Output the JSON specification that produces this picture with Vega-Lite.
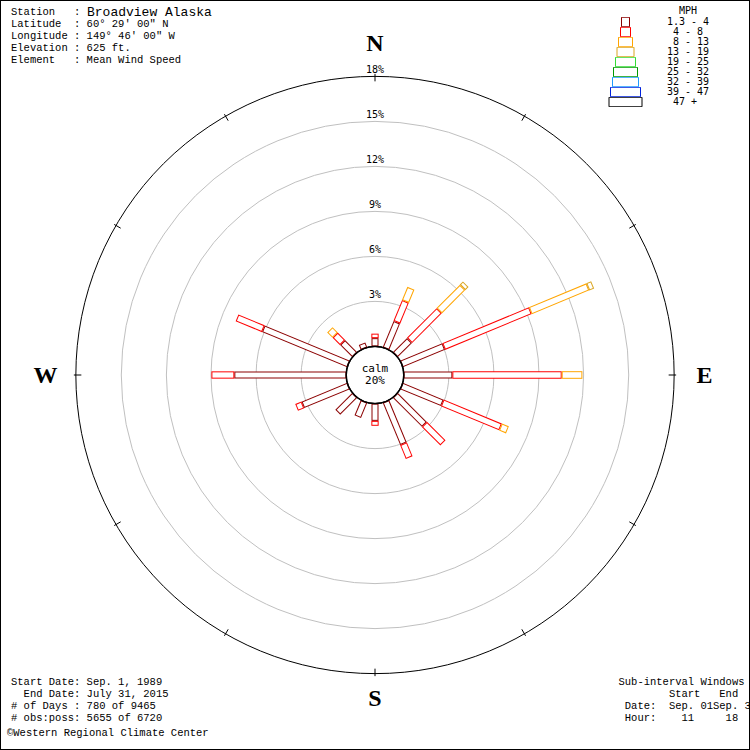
{
  "$schema": "https://vega.github.io/schema/vega-lite/v6.json",
  "width": 750,
  "height": 750,
  "autosize": {"type": "fit", "contains": "padding"},
  "padding": 0,
  "background": "white",
  "config": {"view": {"stroke": "black", "strokeWidth": 2}},
  "datasets": {
    "rose": [
      {"dir": 0, "speed": "1.3 - 4", "pct": 0.55},
      {"dir": 0, "speed": "4 - 8", "pct": 0.3},
      {"dir": 22.5, "speed": "1.3 - 4", "pct": 1.9},
      {"dir": 22.5, "speed": "4 - 8", "pct": 1.5},
      {"dir": 22.5, "speed": "8 - 13", "pct": 0.95},
      {"dir": 45, "speed": "1.3 - 4", "pct": 1.35},
      {"dir": 45, "speed": "4 - 8", "pct": 2.8},
      {"dir": 45, "speed": "8 - 13", "pct": 2.2},
      {"dir": 45, "speed": "13 - 19", "pct": 0.3},
      {"dir": 67.5, "speed": "1.3 - 4", "pct": 3.05},
      {"dir": 67.5, "speed": "4 - 8", "pct": 6.25},
      {"dir": 67.5, "speed": "8 - 13", "pct": 4.15},
      {"dir": 67.5, "speed": "13 - 19", "pct": 0.35},
      {"dir": 90, "speed": "1.3 - 4", "pct": 3.25},
      {"dir": 90, "speed": "4 - 8", "pct": 7.29},
      {"dir": 90, "speed": "8 - 13", "pct": 1.38},
      {"dir": 112.5, "speed": "1.3 - 4", "pct": 2.95},
      {"dir": 112.5, "speed": "4 - 8", "pct": 4.2},
      {"dir": 112.5, "speed": "8 - 13", "pct": 0.5},
      {"dir": 135, "speed": "1.3 - 4", "pct": 2.75},
      {"dir": 135, "speed": "4 - 8", "pct": 1.75},
      {"dir": 157.5, "speed": "1.3 - 4", "pct": 3.05},
      {"dir": 157.5, "speed": "4 - 8", "pct": 1.0},
      {"dir": 180, "speed": "1.3 - 4", "pct": 1.15},
      {"dir": 180, "speed": "4 - 8", "pct": 0.33},
      {"dir": 202.5, "speed": "1.3 - 4", "pct": 1.1},
      {"dir": 225, "speed": "1.3 - 4", "pct": 1.6},
      {"dir": 247.5, "speed": "1.3 - 4", "pct": 3.3},
      {"dir": 247.5, "speed": "4 - 8", "pct": 0.45},
      {"dir": 270, "speed": "1.3 - 4", "pct": 7.47},
      {"dir": 270, "speed": "4 - 8", "pct": 1.53},
      {"dir": 292.5, "speed": "1.3 - 4", "pct": 6.15},
      {"dir": 292.5, "speed": "4 - 8", "pct": 1.9},
      {"dir": 315, "speed": "1.3 - 4", "pct": 1.15},
      {"dir": 315, "speed": "4 - 8", "pct": 0.7},
      {"dir": 315, "speed": "8 - 13", "pct": 0.5},
      {"dir": 337.5, "speed": "1.3 - 4", "pct": 0.35}
    ],
    "speeds": [
      {"speed": "1.3 - 4"}, {"speed": "4 - 8"}, {"speed": "8 - 13"},
      {"speed": "13 - 19"}, {"speed": "19 - 25"}, {"speed": "25 - 32"},
      {"speed": "32 - 39"}, {"speed": "39 - 47"}, {"speed": "47 +"}
    ],
    "rings": [{"ring": 3}, {"ring": 6}, {"ring": 9}, {"ring": 12}, {"ring": 15}, {"ring": 18}],
    "ticks": [{"ang": 0}, {"ang": 30}, {"ang": 60}, {"ang": 90}, {"ang": 120}, {"ang": 150},
              {"ang": 180}, {"ang": 210}, {"ang": 240}, {"ang": 270}, {"ang": 300}, {"ang": 330}],
    "compass": [{"ang": 0, "lab": "N"}, {"ang": 90, "lab": "E"}, {"ang": 180, "lab": "S"}, {"ang": 270, "lab": "W"}]
  },
  "layer": [
    {
      "data": {"name": "rings"},
      "transform": [{"filter": "datum.ring < 18"}],
      "mark": {"type": "arc", "filled": false, "stroke": "#c0c0c0", "strokeWidth": 1, "theta": 0, "theta2": 6.2832},
      "encoding": {
        "radius": {"field": "ring", "type": "quantitative", "stack": null, "scale": {"type": "linear", "domain": [-1.9067, 23.0933], "range": [0, 375], "zero": false}}
      }
    },
    {
      "data": {"name": "rings"},
      "transform": [{"filter": "datum.ring == 18"}],
      "mark": {"type": "arc", "filled": false, "stroke": "black", "strokeWidth": 1, "theta": 0, "theta2": 6.2832},
      "encoding": {
        "radius": {"field": "ring", "type": "quantitative", "stack": null}
      }
    },
    {
      "data": {"name": "ticks"},
      "transform": [
        {"calculate": "sin(datum.ang*PI/180)*(1.9067+17.67)", "as": "xa"},
        {"calculate": "cos(datum.ang*PI/180)*(1.9067+17.67)", "as": "ya"},
        {"calculate": "sin(datum.ang*PI/180)*(1.9067+18.17)", "as": "xb"},
        {"calculate": "cos(datum.ang*PI/180)*(1.9067+18.17)", "as": "yb"}
      ],
      "mark": {"type": "rule", "color": "black", "strokeWidth": 1},
      "encoding": {
        "x": {"field": "xa", "type": "quantitative", "scale": {"domain": [-25, 25], "nice": false, "zero": false}, "axis": null},
        "y": {"field": "ya", "type": "quantitative", "scale": {"domain": [-25, 25], "nice": false, "zero": false}, "axis": null},
        "x2": {"field": "xb"},
        "y2": {"field": "yb"}
      }
    },
    {
      "data": {"name": "speeds"},
      "mark": {"type": "point", "filled": false, "size": 100, "opacity": 0, "strokeWidth": 1},
      "encoding": {
        "x": {"datum": 0, "type": "quantitative"},
        "y": {"datum": 0, "type": "quantitative"},
        "color": {
          "field": "speed", "type": "nominal",
          "scale": {"domain": ["1.3 - 4", "4 - 8", "8 - 13", "13 - 19", "19 - 25", "25 - 32", "32 - 39", "39 - 47", "47 +"],
                    "range": ["#8b0000", "#ff0000", "#ffa500", "#daa520", "#33dd33", "#009900", "#1e9bff", "#0022dd", "#000000"]},
          "legend": {
            "orient": "none", "legendX": 608, "legendY": 6,
            "title": "MPH\u00a0\u00a0\u200b", "titleFont": "DejaVu Sans Mono", "titleFontSize": 10, "titleFontWeight": "normal",
            "titleColor": "black", "titleAnchor": "end", "titlePadding": 1,
            "labelFont": "DejaVu Sans Mono", "labelFontSize": 10, "labelColor": "black", "labelOffset": 48,
            "rowPadding": 0, "clipHeight": 10, "symbolSize": 100, "symbolStrokeWidth": 1, "symbolOpacity": 1,
            "labelExpr": "(datum.label=='4 - 8'||datum.label=='8 - 13'||datum.label=='47 +') ? '\u200b\u00a0'+datum.label : datum.label"
          }
        },
        "shape": {
          "field": "speed", "type": "nominal",
          "scale": {"domain": ["1.3 - 4", "4 - 8", "8 - 13", "13 - 19", "19 - 25", "25 - 32", "32 - 39", "39 - 47", "47 +"],
                    "range": ["M1.6,-0.95H3.2V0.95H1.6Z", "M1.4,-0.95H3.4V0.95H1.4Z", "M1,-0.95H3.8V0.95H1Z", "M0.7,-0.95H4.1V0.95H0.7Z", "M0.4,-0.95H4.4V0.95H0.4Z", "M0,-0.95H4.8V0.95H0Z", "M-0.2,-0.95H5V0.95H-0.2Z", "M-0.6,-0.95H5.4V0.95H-0.6Z", "M-0.9,-0.95H5.7V0.95H-0.9Z"]}
        }
      }
    },
    {
      "data": {"name": "rose"},
      "transform": [
        {"calculate": "indexof(['1.3 - 4','4 - 8','8 - 13','13 - 19','19 - 25','25 - 32','32 - 39','39 - 47','47 +'], datum.speed)", "as": "k"},
        {"stack": "pct", "groupby": ["dir"], "sort": [{"field": "k", "order": "ascending"}], "as": ["p0", "p1"]},
        {"calculate": "sin(datum.dir*PI/180)*(1.9067+datum.p0)", "as": "xa"},
        {"calculate": "cos(datum.dir*PI/180)*(1.9067+datum.p0)", "as": "ya"},
        {"calculate": "sin(datum.dir*PI/180)*(1.9067+datum.p1)", "as": "xb"},
        {"calculate": "cos(datum.dir*PI/180)*(1.9067+datum.p1)", "as": "yb"}
      ],
      "mark": {"type": "rule", "strokeCap": "butt"},
      "encoding": {
        "x": {"field": "xa", "type": "quantitative"},
        "y": {"field": "ya", "type": "quantitative"},
        "x2": {"field": "xb"},
        "y2": {"field": "yb"},
        "color": {"field": "speed", "type": "nominal", "legend": null},
        "size": {"field": "speed", "type": "ordinal",
                 "scale": {"domain": ["1.3 - 4", "4 - 8", "8 - 13", "13 - 19", "19 - 25", "25 - 32", "32 - 39", "39 - 47", "47 +"],
                           "range": [7, 9.5, 13, 16, 19, 23, 25, 29, 32]},
                 "legend": null}
      }
    },
    {
      "data": {"name": "rose"},
      "transform": [
        {"calculate": "indexof(['1.3 - 4','4 - 8','8 - 13','13 - 19','19 - 25','25 - 32','32 - 39','39 - 47','47 +'], datum.speed)", "as": "k"},
        {"stack": "pct", "groupby": ["dir"], "sort": [{"field": "k", "order": "ascending"}], "as": ["p0", "p1"]},
        {"calculate": "sin(datum.dir*PI/180)*(1.9067+datum.p0+0.0667)", "as": "xa"},
        {"calculate": "cos(datum.dir*PI/180)*(1.9067+datum.p0+0.0667)", "as": "ya"},
        {"calculate": "sin(datum.dir*PI/180)*(1.9067+datum.p1-0.0667)", "as": "xb"},
        {"calculate": "cos(datum.dir*PI/180)*(1.9067+datum.p1-0.0667)", "as": "yb"}
      ],
      "mark": {"type": "rule", "strokeCap": "butt", "color": "white"},
      "encoding": {
        "x": {"field": "xa", "type": "quantitative"},
        "y": {"field": "ya", "type": "quantitative"},
        "x2": {"field": "xb"},
        "y2": {"field": "yb"},
        "size": {"field": "speed", "type": "ordinal",
                 "scale": {"domain": ["1.3 - 4", "4 - 8", "8 - 13", "13 - 19", "19 - 25", "25 - 32", "32 - 39", "39 - 47", "47 +"],
                           "range": [5, 7.5, 11, 14, 17, 21, 23, 27, 30]},
                 "legend": null}
      }
    },
    {
      "data": {"values": [{}]},
      "mark": {"type": "arc", "fill": "white", "stroke": "black", "strokeWidth": 1.5, "theta": 0, "theta2": 6.2832},
      "encoding": {
        "radius": {"datum": 0, "type": "quantitative", "stack": null}
      }
    },
    {
      "data": {"name": "rings"},
      "transform": [{"calculate": "datum.ring + '%'", "as": "lab"}],
      "mark": {"type": "text", "font": "DejaVu Sans Mono", "fontSize": 10, "color": "black", "baseline": "middle", "dy": -6},
      "encoding": {
        "theta": {"datum": 0, "type": "quantitative", "scale": {"domain": [0, 360], "range": [0, 6.283185]}},
        "radius": {"field": "ring", "type": "quantitative", "stack": null},
        "text": {"field": "lab"}
      }
    },
    {
      "data": {"name": "compass"},
      "transform": [{"filter": "datum.ang == 0 || datum.ang == 180"}],
      "mark": {"type": "text", "font": "Liberation Serif", "fontWeight": "bold", "fontSize": 24, "color": "black", "baseline": "middle", "align": "center", "radiusOffset": 28.6, "dy": -3.6},
      "encoding": {
        "theta": {"field": "ang", "type": "quantitative", "stack": null},
        "radius": {"datum": 18, "type": "quantitative", "stack": null},
        "text": {"field": "lab"}
      }
    },
    {
      "data": {"name": "compass"},
      "transform": [{"filter": "datum.ang == 90 || datum.ang == 270"}],
      "mark": {"type": "text", "font": "Liberation Serif", "fontWeight": "bold", "fontSize": 24, "color": "black", "baseline": "middle", "align": "center", "radiusOffset": 31, "dy": 1},
      "encoding": {
        "theta": {"field": "ang", "type": "quantitative", "stack": null},
        "radius": {"datum": 18, "type": "quantitative", "stack": null},
        "text": {"field": "lab"}
      }
    },
    {
      "data": {"values": [{}]},
      "mark": {"type": "text", "font": "DejaVu Sans Mono", "fontSize": 11, "color": "black", "baseline": "middle", "align": "center", "lineHeight": 12, "dy": -6},
      "encoding": {
        "x": {"datum": 0, "type": "quantitative"},
        "y": {"datum": 0, "type": "quantitative"},
        "text": {"value": ["calm", "20%"]}
      }
    },
    {
      "data": {"values": [{}]},
      "mark": {"type": "text", "font": "Liberation Mono", "fontSize": 10.5, "color": "black", "baseline": "top", "align": "left", "lineHeight": 12},
      "encoding": {
        "x": {"datum": -24.267, "type": "quantitative"},
        "y": {"datum": 24.543, "type": "quantitative"},
        "text": {"value": ["Station\u00a0\u00a0\u00a0:", "Latitude\u00a0\u00a0: 60° 29' 00\" N", "Longitude : 149° 46' 00\" W", "Elevation : 625 ft.", "Element\u00a0\u00a0\u00a0: Mean Wind Speed"]}
      }
    },
    {
      "data": {"values": [{}]},
      "mark": {"type": "text", "font": "Liberation Mono", "fontSize": 13, "color": "black", "baseline": "middle", "align": "left"},
      "encoding": {
        "x": {"datum": -19.2, "type": "quantitative"},
        "y": {"datum": 24.2, "type": "quantitative"},
        "text": {"value": "Broadview Alaska"}
      }
    },
    {
      "data": {"values": [{}]},
      "mark": {"type": "text", "font": "Liberation Mono", "fontSize": 10.5, "color": "black", "baseline": "top", "align": "left", "lineHeight": 12},
      "encoding": {
        "x": {"datum": -24.267, "type": "quantitative"},
        "y": {"datum": -20.16, "type": "quantitative"},
        "text": {"value": ["Start Date: Sep. 1, 1989", "\u200b\u00a0\u00a0End Date: July 31, 2015", "# of Days : 780 of 9465", "# obs:poss: 5655 of 6720"]}
      }
    },
    {
      "data": {"values": [{}]},
      "mark": {"type": "text", "font": "Liberation Mono", "fontSize": 10.5, "color": "black", "baseline": "middle", "align": "left"},
      "encoding": {
        "x": {"datum": -24.533, "type": "quantitative"},
        "y": {"datum": -23.887, "type": "quantitative"},
        "text": {"value": "©Western Regional Climate Center"}
      }
    },
    {
      "data": {"values": [{}]},
      "mark": {"type": "text", "font": "Liberation Mono", "fontSize": 10.5, "color": "black", "baseline": "top", "align": "left", "lineHeight": 12, "clip": true},
      "encoding": {
        "x": {"datum": 16.233, "type": "quantitative"},
        "y": {"datum": -20.16, "type": "quantitative"},
        "text": {"value": ["Sub-interval Windows", "\u200b\u00a0\u00a0\u00a0\u00a0\u00a0\u00a0\u00a0\u00a0Start\u00a0\u00a0\u00a0End", "\u200b\u00a0Date:\u00a0\u00a0Sep. 01Sep. 30", "\u200b\u00a0Hour:\u00a0\u00a0\u00a0\u00a011\u00a0\u00a0\u00a0\u00a0\u00a018"]}
      }
    }
  ],
  "resolve": {"scale": {"size": "independent"}}
}
